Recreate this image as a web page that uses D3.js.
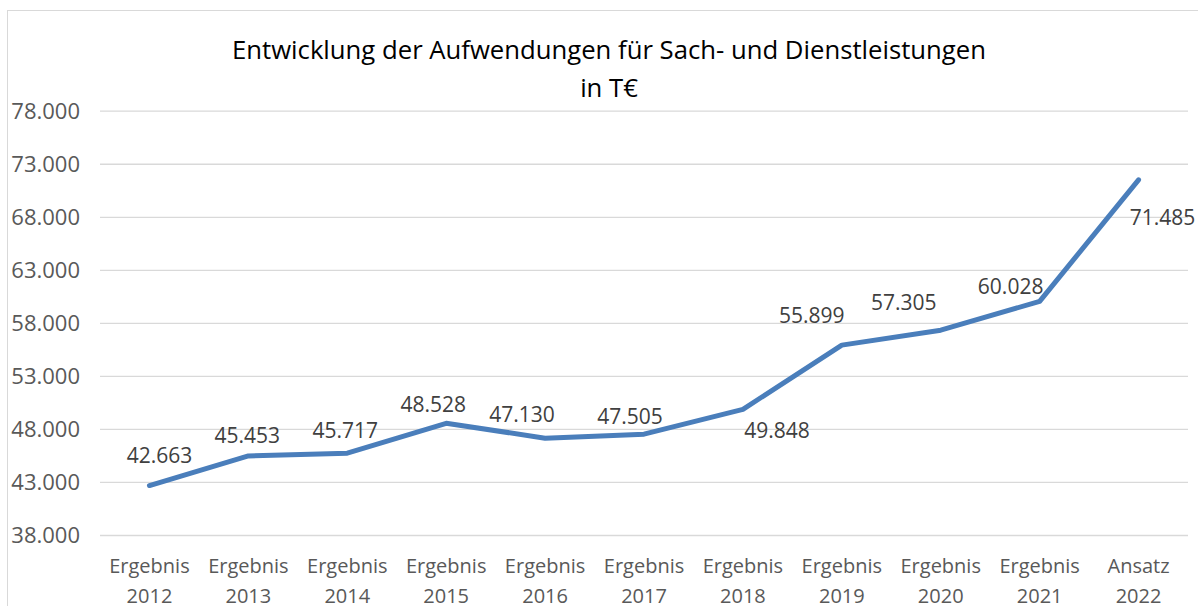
<!DOCTYPE html>
<html>
<head>
<meta charset="utf-8">
<script src="https://cdn.jsdelivr.net/npm/d3@7/dist/d3.min.js"></script>
<style>
  html, body { margin: 0; padding: 0; background: #fff; }
  svg { display: block; }
  text { font-family: "Open Sans", "Noto Sans", sans-serif; }
</style>
</head>
<body>
<svg id="chart" width="1198" height="606"></svg>
<script>
// Aufwendungen für Sach- und Dienstleistungen, in T€
const categories = [
  ["Ergebnis", "2012"], ["Ergebnis", "2013"], ["Ergebnis", "2014"],
  ["Ergebnis", "2015"], ["Ergebnis", "2016"], ["Ergebnis", "2017"],
  ["Ergebnis", "2018"], ["Ergebnis", "2019"], ["Ergebnis", "2020"],
  ["Ergebnis", "2021"], ["Ansatz", "2022"]
];
const values = [42663, 45453, 45717, 48528, 47130, 47505, 49848, 55899, 57305, 60028, 71485];
const yTicks = [38000, 43000, 48000, 53000, 58000, 63000, 68000, 73000, 78000];
const titleLines = ["Entwicklung der Aufwendungen für Sach- und Dienstleistungen", "in T€"];

// data-label placement relative to each point (dx, dy of label centre)
const labelOffsets = [
  [10, -30], [-1, -20], [-2, -22], [-13, -19], [-23, -24], [-14, -18],
  [34, 21], [-30, -29], [-37, -28], [-29, -15], [24, 38]
];

const fmt = v => d3.format(",")(v).replace(/,/g, ".");

const svg = d3.select("#chart");
const W = 1198, H = 606;
const plot = { left: 100, right: 1188, top: 110.7, bottom: 535 };

// outer chart frame
svg.append("rect")
  .attr("x", 7.5).attr("y", 10.5)
  .attr("width", W + 20).attr("height", H + 20)
  .attr("fill", "#fff").attr("stroke", "#d9d9d9").attr("stroke-width", 1);

const x = d3.scaleBand()
  .domain(categories.map((c, i) => i))
  .range([plot.left, plot.right])
  .paddingInner(0).paddingOuter(0);

const y = d3.scaleLinear()
  .domain([38000, 78000])
  .range([plot.bottom, plot.top]);

// horizontal gridlines + value labels on the left
const yAxis = d3.axisLeft(y)
  .tickValues(yTicks)
  .tickSize(-(plot.right - plot.left))
  .tickPadding(20)
  .tickFormat(fmt);

const gy = svg.append("g")
  .attr("transform", `translate(${plot.left},0)`)
  .call(yAxis);
gy.select(".domain").remove();
gy.selectAll(".tick line").attr("stroke", "#d9d9d9").attr("stroke-width", 1.3);
gy.selectAll(".tick text")
  .attr("fill", "#595959")
  .attr("font-size", 22)
  .attr("x", -20)
  .attr("dy", "0.35em");

// category axis labels (two lines each)
const xAxis = d3.axisBottom(x).tickSize(0).tickFormat(() => "");
const gx = svg.append("g")
  .attr("transform", `translate(0,${plot.bottom})`)
  .call(xAxis);
gx.select(".domain").remove();
gx.selectAll(".tick").each(function(d) {
  const t = d3.select(this).append("text")
    .attr("fill", "#595959")
    .attr("font-size", 20)
    .attr("text-anchor", "middle");
  t.append("tspan").attr("x", 0).attr("y", 38).text(categories[d][0]);
  t.append("tspan").attr("x", 0).attr("y", 68).text(categories[d][1]);
});

// series line
const line = d3.line()
  .x((d, i) => x(i) + x.bandwidth() / 2)
  .y(d => y(d));

svg.append("path")
  .datum(values)
  .attr("d", line)
  .attr("fill", "none")
  .attr("stroke", "#4a7ebb")
  .attr("stroke-width", 5)
  .attr("stroke-linejoin", "round")
  .attr("stroke-linecap", "round");

// data labels
svg.append("g").selectAll("text")
  .data(values)
  .join("text")
  .attr("x", (d, i) => x(i) + x.bandwidth() / 2 + labelOffsets[i][0])
  .attr("y", (d, i) => y(d) + labelOffsets[i][1])
  .attr("dy", "0.35em")
  .attr("text-anchor", "middle")
  .attr("fill", "#404040")
  .attr("font-size", 21)
  .text(d => fmt(d));

// title
svg.append("text")
  .attr("x", 609).attr("text-anchor", "middle")
  .attr("fill", "#000")
  .attr("font-size", 25.7)
  .selectAll("tspan")
  .data(titleLines)
  .join("tspan")
  .attr("x", 609)
  .attr("y", (d, i) => 59 + i * 38)
  .text(d => d);
</script>
</body>
</html>
